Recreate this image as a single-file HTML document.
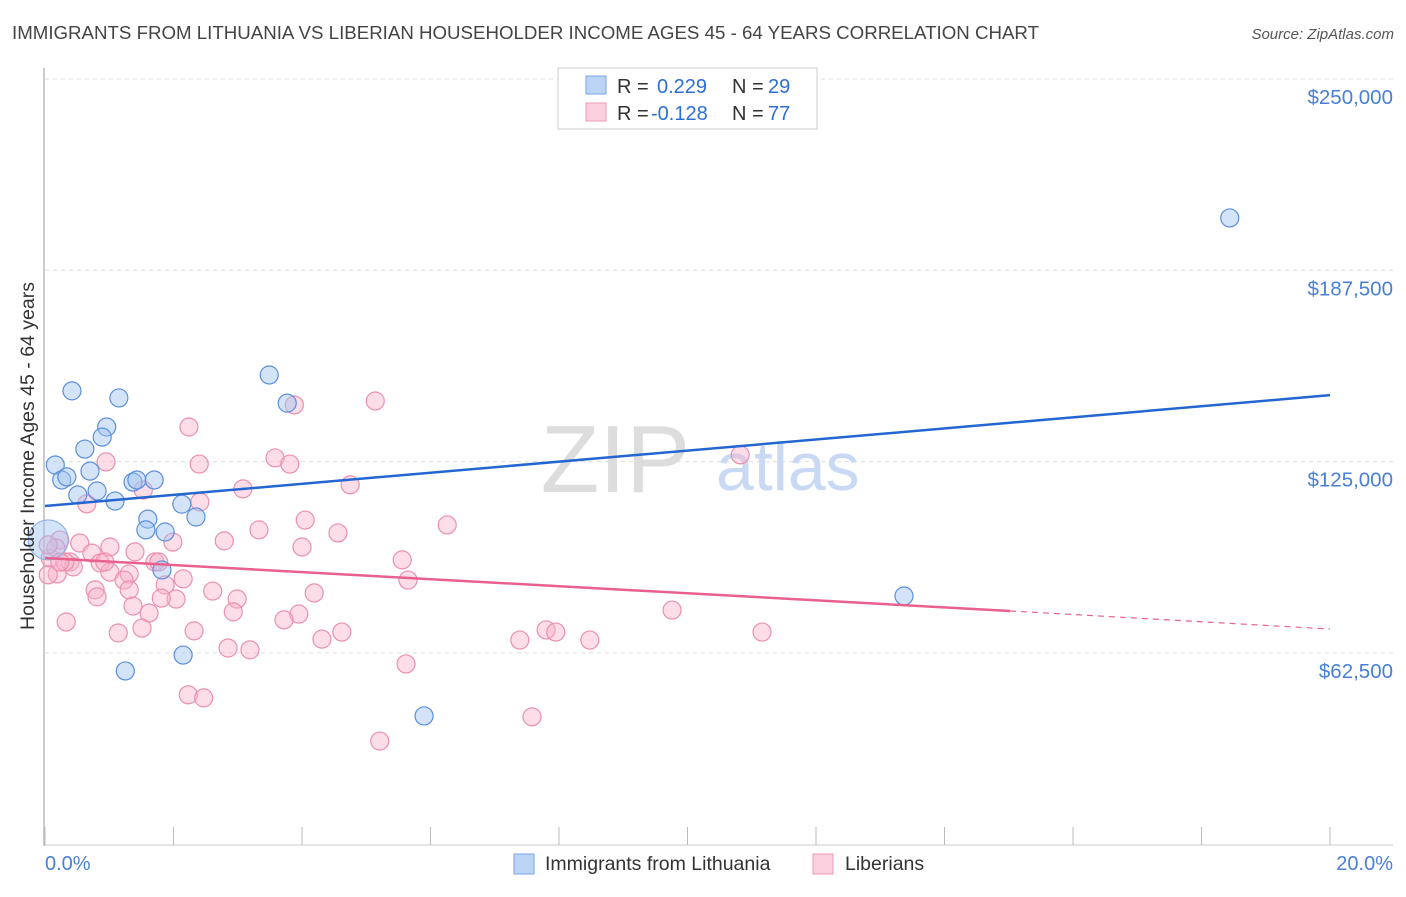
<!DOCTYPE html>
<html><head><meta charset="utf-8"><style>
body{margin:0;background:#fff;font-family:"Liberation Sans",sans-serif;}
svg text{font-family:"Liberation Sans",sans-serif;}
</style></head><body>
<svg id="chart" width="1406" height="892">
<text x="12" y="39" font-size="18.7" fill="#444">IMMIGRANTS FROM LITHUANIA VS LIBERIAN HOUSEHOLDER INCOME AGES 45 - 64 YEARS CORRELATION CHART</text>
<text x="1394" y="39" font-size="15" fill="#555" font-style="italic" text-anchor="end">Source: ZipAtlas.com</text>
<g id="grid"></g>
<text x="690" y="492" font-size="96" fill="#ddd" text-anchor="end" font-family="Liberation Serif">ZIP</text>
<text x="716" y="490" font-size="68" fill="#c9d9f3">atlas</text>
<g id="marks"></g>
<text transform="translate(34,456) rotate(-90)" font-size="19.5" fill="#333" text-anchor="middle">Householder Income Ages 45 - 64 years</text>
<text x="45" y="870" font-size="20" fill="#4a7fd8">0.0%</text>
<text x="1393" y="870" font-size="20" fill="#4a7fd8" text-anchor="end">20.0%</text>
<g>
<rect x="558" y="68" width="259" height="61" fill="#fff" stroke="#ccc"/>
<rect x="586" y="76" width="20" height="18" fill="#bcd4f5" stroke="#7aa6e8"/>
<rect x="586" y="103" width="20" height="18" fill="#fbcfdd" stroke="#f09ab8"/>
<text x="617" y="93" font-size="20" fill="#333">R =</text>
<text x="657" y="93" font-size="20" fill="#2d6fd6">0.229</text>
<text x="732" y="93" font-size="20" fill="#333">N =</text>
<text x="768" y="93" font-size="20" fill="#2d6fd6">29</text>
<text x="617" y="120" font-size="20" fill="#333">R =</text>
<text x="651" y="120" font-size="20" fill="#2d6fd6">-0.128</text>
<text x="732" y="120" font-size="20" fill="#333">N =</text>
<text x="768" y="120" font-size="20" fill="#2d6fd6">77</text>
</g>
<g>
<rect x="514" y="854" width="20" height="20" fill="#bcd4f5" stroke="#7aa6e8"/>
<text x="545" y="870" font-size="19.5" fill="#333">Immigrants from Lithuania</text>
<rect x="813" y="854" width="20" height="20" fill="#fbcfdd" stroke="#f09ab8"/>
<text x="845" y="870" font-size="19.5" fill="#333">Liberians</text>
</g>
</svg>
<script>
const yTicks=[250000,187500,125000,62500];
const yTickLabels=["$250,000","$187,500","$125,000","$62,500"];
const xTicks=[0,2,4,6,8,10,12,14,16,18,20];
const blueX=[0.42,1.15,3.49,3.77,0.96,0.89,0.62,0.16,0.70,0.26,0.34,0.81,0.51,1.37,1.43,1.70,1.09,2.13,1.60,2.35,1.57,1.87,1.82,2.15,1.25,5.90,13.37,18.44];
const blueY=[148100,145800,153300,144100,136300,133000,129100,123900,121900,119000,120000,115400,114100,118300,119000,119000,112100,111100,106200,106900,102700,102000,89600,61800,56600,41900,81100,204600];
const blueBigX=[0.05];
const blueBigY=[99400];
const pinkX=[5.14,3.88,2.24,10.82,0.95,2.40,3.58,3.81,1.53,3.08,4.75,0.65,2.41,6.26,3.33,4.05,4.56,2.79,1.99,0.23,0.54,1.01,0.73,1.40,4.00,5.56,0.39,0.86,1.71,1.77,0.44,1.01,1.31,0.19,2.15,1.23,5.65,1.87,0.78,2.61,4.19,0.81,1.31,2.04,2.99,1.81,1.37,1.62,3.95,9.76,2.93,3.72,0.33,1.51,2.32,4.62,4.31,1.14,7.80,7.95,7.39,8.48,11.16,2.85,3.19,5.62,2.23,2.47,7.58,5.21,0.08,0.17,0.05,0.05,0.93,0.31,0.23];
const pinkY=[144800,143500,136300,127200,124900,124200,126200,124200,115700,116100,117400,111200,111800,104300,102700,105900,101700,99100,98700,99400,98400,97100,95100,95500,97100,92900,92200,91900,92200,92200,90600,88900,88300,88300,86700,86300,86300,84700,83100,82700,82100,80800,83100,80100,80100,80400,77800,75500,75200,76500,75900,73300,72600,70600,69700,69300,67000,69000,70000,69300,66700,66700,69300,64100,63500,58900,48800,47800,41600,33700,93500,96800,97800,88000,92200,92200,92200];
const blueTrend=[[0,110500],[20,146700]];
const pinkTrendSolid=[[0,93500],[15.02,76200]];
const pinkTrendDash=[[15.02,76200],[20,70300]];

const NS="http://www.w3.org/2000/svg";
const xs=v=>45+v/20*1285;
const ys=v=>79+(250000-v)/62500*191.3;
function mk(tag,attrs,parent){const e=document.createElementNS(NS,tag);for(const k in attrs)e.setAttribute(k,attrs[k]);parent.appendChild(e);return e;}
const grid=document.getElementById('grid'),marks=document.getElementById('marks');
mk('line',{x1:44,y1:68,x2:44,y2:846,stroke:'#bbb','stroke-width':1.5},grid);
mk('line',{x1:44,y1:845,x2:1393,y2:845,stroke:'#ccc'},grid);
yTicks.forEach((t,i)=>{
 const l=mk('line',{x1:45,x2:1393,y1:ys(t),y2:ys(t),stroke:'#ddd','stroke-dasharray':'4,4'},grid);
 
 
 const tx=mk('text',{x:1393,y:ys(t)+25,'font-size':20.5,fill:'#4a7fd8','text-anchor':'end'},grid);
 tx.textContent=yTickLabels[i];
 
 
});
xTicks.forEach(t=>{
 const l=mk('line',{x1:xs(t),x2:xs(t),y1:827,y2:845,stroke:'#bbb'},grid);
 
 
});
function dots(X,Y,r,fill,stroke,name){X.forEach((x,i)=>{
 const c=mk('circle',{cx:xs(x),cy:ys(Y[i]),r:r,fill:fill,stroke:stroke,'stroke-width':1.2},marks);
 
 
});}
dots(pinkX,pinkY,9,'rgba(248,180,204,0.45)','#ec8fb0','liberian-point');
dots(blueX,blueY,9,'rgba(160,195,240,0.45)','#5b8fdc','lithuania-point');
dots(blueBigX,blueBigY,20,'rgba(160,195,240,0.45)','#8fb2e6','lithuania-point');
function line(p,color,dash,name){
 const l=mk('line',{x1:xs(p[0][0]),y1:ys(p[0][1]),x2:xs(p[1][0]),y2:ys(p[1][1]),stroke:color,'stroke-width':dash?1.2:2.5},marks);
 if(dash)l.setAttribute('stroke-dasharray','6,5');
 
 
}
line(blueTrend,'#2466d1',false,'lithuania-trendline');
line(pinkTrendSolid,'#e8608c',false,'liberian-trendline');
line(pinkTrendDash,'#e8608c',true,'liberian-trendline-extension');
</script>
</body></html>
